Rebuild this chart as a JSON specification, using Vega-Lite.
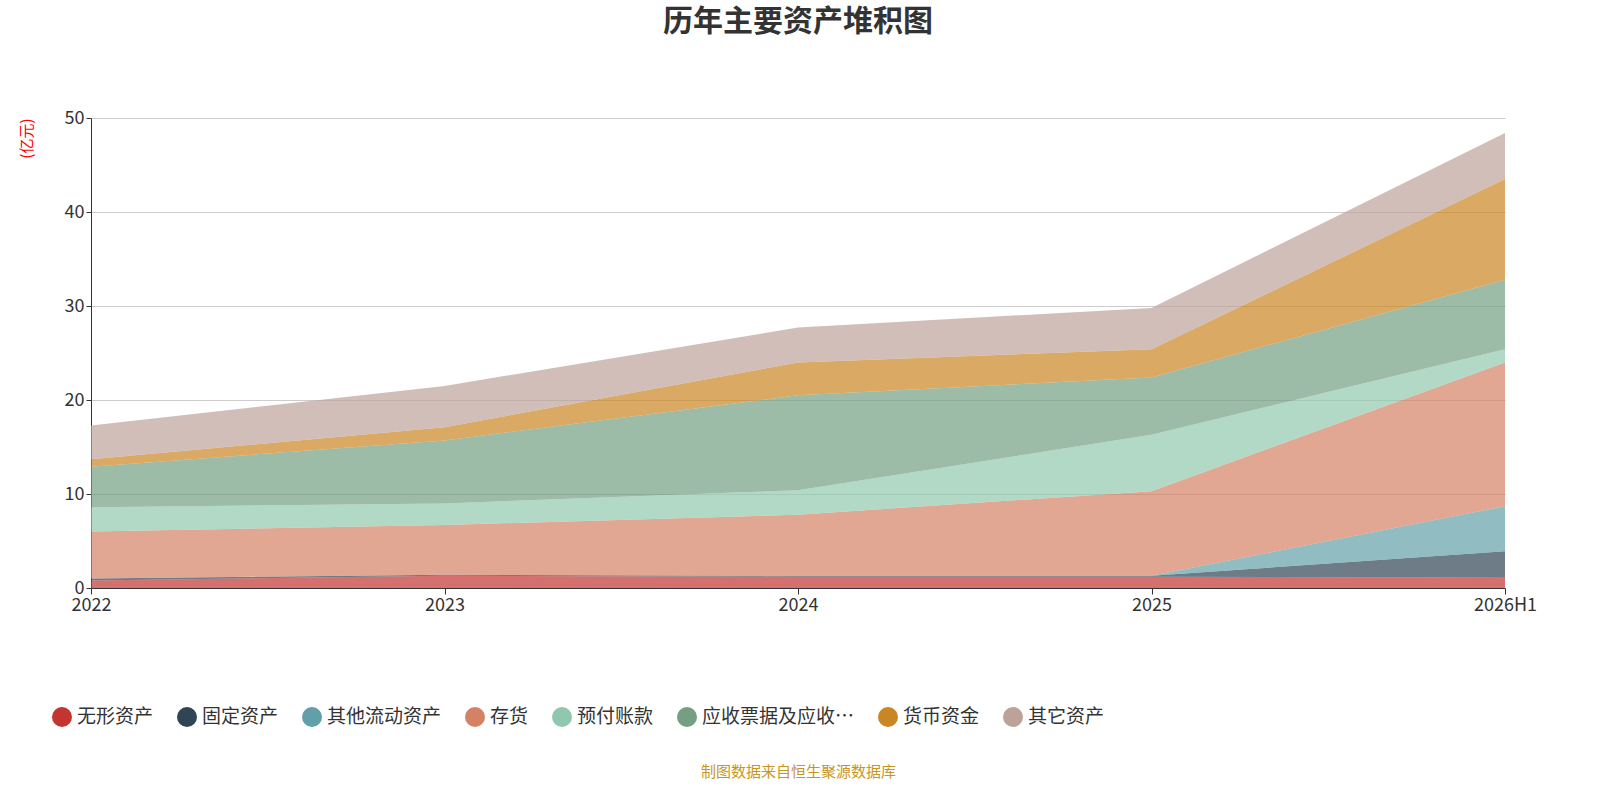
{
  "$schema": "https://vega.github.io/schema/vega-lite/v6.json",
  "width": 1414,
  "height": 470,
  "autosize": {"type": "none"},
  "padding": {"left": 91, "top": 118, "right": 95, "bottom": 212},
  "background": "white",
  "title": {"text": "历年主要资产堆积图", "fontSize": 30, "fontWeight": "bold", "color": "#333", "offset": 72, "anchor": "middle", "font": "Noto Sans CJK SC"},
  "data": {"values": [
    {"year": "2022", "item": "无形资产", "k": 0, "v": 0.8},
    {"year": "2023", "item": "无形资产", "k": 0, "v": 1.3},
    {"year": "2024", "item": "无形资产", "k": 0, "v": 1.2},
    {"year": "2025", "item": "无形资产", "k": 0, "v": 1.2},
    {"year": "2026H1", "item": "无形资产", "k": 0, "v": 1.1},
    {"year": "2022", "item": "固定资产", "k": 1, "v": 0.2},
    {"year": "2023", "item": "固定资产", "k": 1, "v": 0.1},
    {"year": "2024", "item": "固定资产", "k": 1, "v": 0.1},
    {"year": "2025", "item": "固定资产", "k": 1, "v": 0.1},
    {"year": "2026H1", "item": "固定资产", "k": 1, "v": 2.8},
    {"year": "2022", "item": "其他流动资产", "k": 2, "v": 0},
    {"year": "2023", "item": "其他流动资产", "k": 2, "v": 0},
    {"year": "2024", "item": "其他流动资产", "k": 2, "v": 0},
    {"year": "2025", "item": "其他流动资产", "k": 2, "v": 0},
    {"year": "2026H1", "item": "其他流动资产", "k": 2, "v": 4.8},
    {"year": "2022", "item": "存货", "k": 3, "v": 5.0},
    {"year": "2023", "item": "存货", "k": 3, "v": 5.3},
    {"year": "2024", "item": "存货", "k": 3, "v": 6.5},
    {"year": "2025", "item": "存货", "k": 3, "v": 9.0},
    {"year": "2026H1", "item": "存货", "k": 3, "v": 15.3},
    {"year": "2022", "item": "预付账款", "k": 4, "v": 2.6},
    {"year": "2023", "item": "预付账款", "k": 4, "v": 2.3},
    {"year": "2024", "item": "预付账款", "k": 4, "v": 2.6},
    {"year": "2025", "item": "预付账款", "k": 4, "v": 6.0},
    {"year": "2026H1", "item": "预付账款", "k": 4, "v": 1.4},
    {"year": "2022", "item": "应收票据及应收账款", "k": 5, "v": 4.3},
    {"year": "2023", "item": "应收票据及应收账款", "k": 5, "v": 6.7},
    {"year": "2024", "item": "应收票据及应收账款", "k": 5, "v": 10.1},
    {"year": "2025", "item": "应收票据及应收账款", "k": 5, "v": 6.1},
    {"year": "2026H1", "item": "应收票据及应收账款", "k": 5, "v": 7.4},
    {"year": "2022", "item": "货币资金", "k": 6, "v": 0.8},
    {"year": "2023", "item": "货币资金", "k": 6, "v": 1.4},
    {"year": "2024", "item": "货币资金", "k": 6, "v": 3.5},
    {"year": "2025", "item": "货币资金", "k": 6, "v": 3.0},
    {"year": "2026H1", "item": "货币资金", "k": 6, "v": 10.7},
    {"year": "2022", "item": "其它资产", "k": 7, "v": 3.6},
    {"year": "2023", "item": "其它资产", "k": 7, "v": 4.4},
    {"year": "2024", "item": "其它资产", "k": 7, "v": 3.7},
    {"year": "2025", "item": "其它资产", "k": 7, "v": 4.4},
    {"year": "2026H1", "item": "其它资产", "k": 7, "v": 4.9}
  ]},
  "mark": {"type": "area", "opacity": 0.7},
  "encoding": {
    "x": {
      "field": "year", "type": "ordinal",
      "scale": {"type": "point", "padding": 0},
      "axis": {"labelAngle": 0, "labelFontSize": 18, "labelColor": "#333", "domainColor": "#333", "tickColor": "#333", "tickSize": 6, "grid": false,
        "title": "制图数据来自恒生聚源数据库", "titleColor": "#c8961e", "titleFontSize": 15, "titleFontWeight": "normal", "titlePadding": 150}
    },
    "y": {
      "field": "v", "type": "quantitative", "stack": "zero",
      "scale": {"domain": [0, 50]},
      "axis": {"values": [0, 10, 20, 30, 40, 50], "labelFontSize": 18, "labelColor": "#333", "domainColor": "#333", "tickColor": "#333", "gridColor": "#ccc",
        "title": "(亿元)", "titleColor": "red", "titleFontSize": 15, "titleFontWeight": "normal", "titleAnchor": "end", "titlePadding": 30}
    },
    "order": {"field": "k", "type": "quantitative"},
    "color": {
      "field": "item", "type": "nominal",
      "scale": {
        "domain": ["无形资产", "固定资产", "其他流动资产", "存货", "预付账款", "应收票据及应收账款", "货币资金", "其它资产"],
        "range": ["#c23531", "#2f4554", "#61a0a8", "#d48265", "#91c7ae", "#749f83", "#ca8622", "#bda29a"]
      },
      "legend": {"orient": "none", "legendX": -40, "legendY": 588, "direction": "horizontal", "columns": 8, "title": null, "symbolType": "circle", "symbolSize": 400, "symbolOpacity": 1, "labelFontSize": 19, "labelColor": "#333", "columnPadding": 22}
    }
  },
  "config": {"font": "Noto Sans CJK SC", "view": {"stroke": null}}
}
